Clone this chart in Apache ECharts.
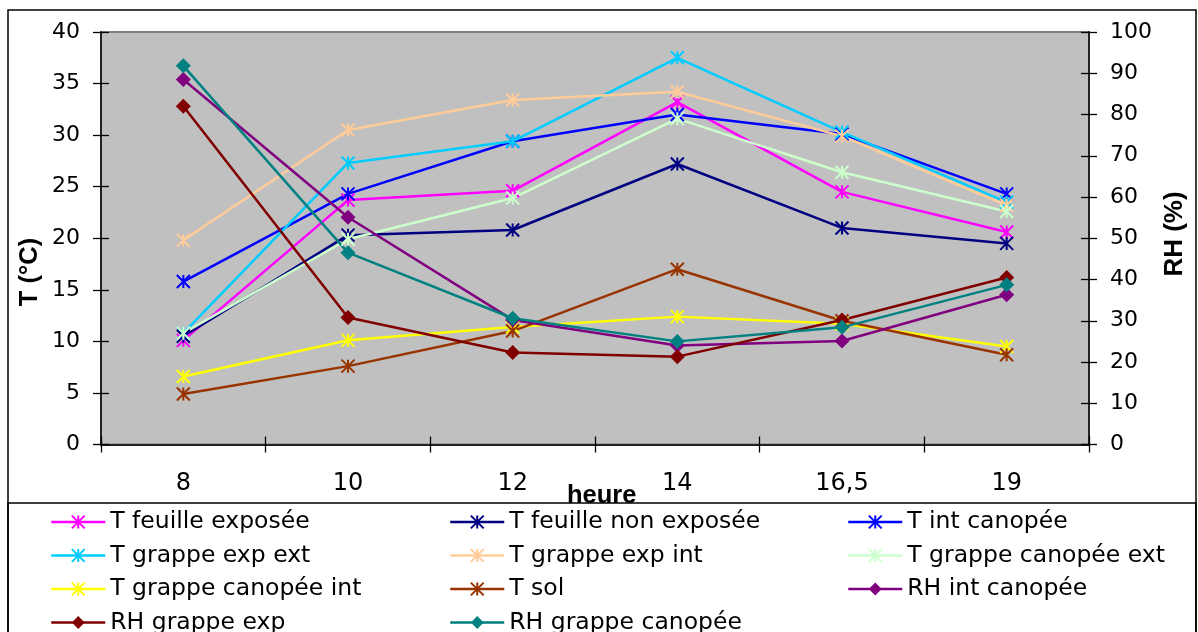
<!DOCTYPE html>
<html>
<head>
<meta charset="utf-8">
<title>T / RH heure</title>
<script src="https://cdn.jsdelivr.net/npm/echarts@6/dist/echarts.min.js"></script>
<style>
  html, body { margin: 0; padding: 0; background: #fff; }
  #myChart { width: 1198px; height: 632px; }
</style>
</head>
<body>
<div id="myChart"></div>
<script>
// heures de mesure
var heures = ["8", "10", "12", "14", "16,5", "19"];

// températures (°C), axe gauche
var tFeuilleExposee = [10.1, 23.7, 24.6, 33.2, 24.5, 20.6];
var tFeuilleNonExposee = [10.5, 20.3, 20.8, 27.2, 21.0, 19.5];
var tIntCanopee = [15.8, 24.3, 29.4, 32.0, 30.1, 24.3];
var tGrappeExpExt = [10.8, 27.3, 29.4, 37.5, 30.3, 23.5];
var tGrappeExpInt = [19.8, 30.5, 33.4, 34.2, 29.9, 23.2];
var tGrappeCanopeeExt = [10.8, 19.9, 23.9, 31.6, 26.4, 22.6];
var tGrappeCanopeeInt = [6.6, 10.1, 11.4, 12.4, 11.7, 9.5];
var tSol = [4.9, 7.6, 11.0, 17.0, 12.0, 8.7];

// humidité relative (%), axe droit
var rhIntCanopee = [88.5, 55.1, 30.2, 24.0, 25.1, 36.3];
var rhGrappeExp = [82.0, 30.8, 22.3, 21.3, 30.2, 40.5];
var rhGrappeCanopee = [91.8, 46.5, 30.6, 25.0, 28.4, 38.7];

// graduations
var tTicks = { min: 0, max: 40, interval: 5 };
var rhTicks = { min: 0, max: 100, interval: 10 };

var font = "Liberation Sans";
var fontLarge = "DejaVu Sans"; // le texte d'origine est étiré en largeur
var star = "path://M0,0L20,20M0,20L20,0M10,0L10,20";

function ligne (name, data, color, marker, yIdx) {
  var isStar = marker === "star";
  return {
    name: name,
    type: "line",
    data: data,
    yAxisIndex: yIdx,
    symbol: isStar ? star : "diamond",
    symbolSize: isStar ? 13 : 15,
    showAllSymbol: true,
    animation: false,
    lineStyle: { color: color, width: 2.5 },
    itemStyle: {
      color: color,
      borderColor: color,
      borderWidth: isStar ? 2 : 0
    },
    emphasis: { disabled: true }
  };
}

var series = [
  ligne("T feuille exposée", tFeuilleExposee, "#FF00FF", "star", 0),
  ligne("T feuille non exposée", tFeuilleNonExposee, "#000080", "star", 0),
  ligne("T int canopée", tIntCanopee, "#0000FF", "star", 0),
  ligne("T grappe exp ext", tGrappeExpExt, "#00CCFF", "star", 0),
  ligne("T grappe exp int", tGrappeExpInt, "#FFCC99", "star", 0),
  ligne("T grappe canopée ext", tGrappeCanopeeExt, "#CCFFCC", "star", 0),
  ligne("T grappe canopée int", tGrappeCanopeeInt, "#FFFF00", "star", 0),
  ligne("T sol", tSol, "#993300", "star", 0),
  ligne("RH int canopée", rhIntCanopee, "#800080", "diamond", 1),
  ligne("RH grappe exp", rhGrappeExp, "#800000", "diamond", 1),
  ligne("RH grappe canopée", rhGrappeCanopee, "#008080", "diamond", 1)
];

// légende en 3 colonnes (ordre par ligne comme dans Excel)
var noms = series.map(function (s) { return s.name; });
var colonnes = [[], [], []];
noms.forEach(function (n, i) { colonnes[i % 3].push(n); });
var colX = [50, 449, 847];

var legends = colonnes.map(function (col, i) {
  return {
    data: col,
    orient: "vertical",
    left: colX[i],
    top: 510,
    height: 200,
    padding: 0,
    itemGap: 9.5,
    itemWidth: 54,
    itemHeight: 16,
    selectedMode: false,
    lineStyle: { width: 2.5 },
    textStyle: { fontFamily: fontLarge, fontSize: 23.5, color: "#000" }
  };
});

var axeY = function (pos, lim, showLabel, inside) {
  return {
    type: "value",
    position: pos,
    min: lim.min,
    max: lim.max,
    interval: lim.interval,
    splitLine: { show: false },
    axisLine: { show: showLabel, lineStyle: { color: "#222", width: 2 } },
    axisTick: { show: true, inside: inside, length: 8, lineStyle: { color: "#000", width: 1.3 } },
    axisLabel: {
      show: showLabel,
      margin: 21,
      fontFamily: fontLarge,
      fontSize: 22,
      color: "#000"
    }
  };
};

var axeX = function (showLabel, inside) {
  return {
    type: "category",
    data: heures,
    position: "bottom",
    boundaryGap: true,
    axisLine: { show: showLabel, lineStyle: { color: "#222", width: 2 } },
    axisTick: { show: true, inside: inside, length: 8, lineStyle: { color: "#000", width: 1.3 } },
    axisLabel: {
      show: showLabel,
      margin: 27,
      fontFamily: fontLarge,
      fontSize: 24,
      color: "#000"
    }
  };
};

var myChart = echarts.init(document.getElementById("myChart"), null, { renderer: "canvas" });

var option = {
  backgroundColor: "#fff",
  animation: false,
  grid: {
    left: 101,
    right: 109,
    top: 32,
    bottom: 187.5,
    show: true,
    backgroundColor: "#C0C0C0",
    borderColor: "#808080",
    borderWidth: 2
  },
  xAxis: [axeX(true, false), axeX(false, true)],
  yAxis: [
    axeY("left", tTicks, true, false),
    axeY("right", rhTicks, true, false),
    axeY("left", tTicks, false, true),
    axeY("right", rhTicks, false, true)
  ],
  legend: legends,
  series: series,
  graphic: [
    {
      type: "text",
      left: 567,
      top: 483,
      z: 0,
      style: { text: "heure", font: "bold 25.5px " + font, fill: "#000" }
    },
    {
      type: "text",
      x: 30,
      y: 272,
      rotation: Math.PI / 2,
      z: 0,
      style: {
        text: "T (°C)",
        font: "bold 25.5px " + font,
        fill: "#000",
        align: "center",
        verticalAlign: "middle"
      }
    },
    {
      type: "text",
      x: 1175,
      y: 234,
      rotation: Math.PI / 2,
      z: 0,
      style: {
        text: "RH (%)",
        font: "bold 26px " + font,
        fill: "#000",
        align: "center",
        verticalAlign: "middle"
      }
    },
    {
      // cadre de la légende, par-dessus le titre "heure"
      type: "rect",
      z: 1,
      shape: { x: 8, y: 503, width: 1188, height: 200 },
      style: { fill: "#fff", stroke: "#000", lineWidth: 1.5 }
    },
    {
      // cadre extérieur
      type: "rect",
      z: 1,
      shape: { x: 8, y: 10, width: 1188, height: 700 },
      style: { fill: null, stroke: "#000", lineWidth: 1.5 }
    }
  ]
};

myChart.setOption(option);
</script>
</body>
</html>
